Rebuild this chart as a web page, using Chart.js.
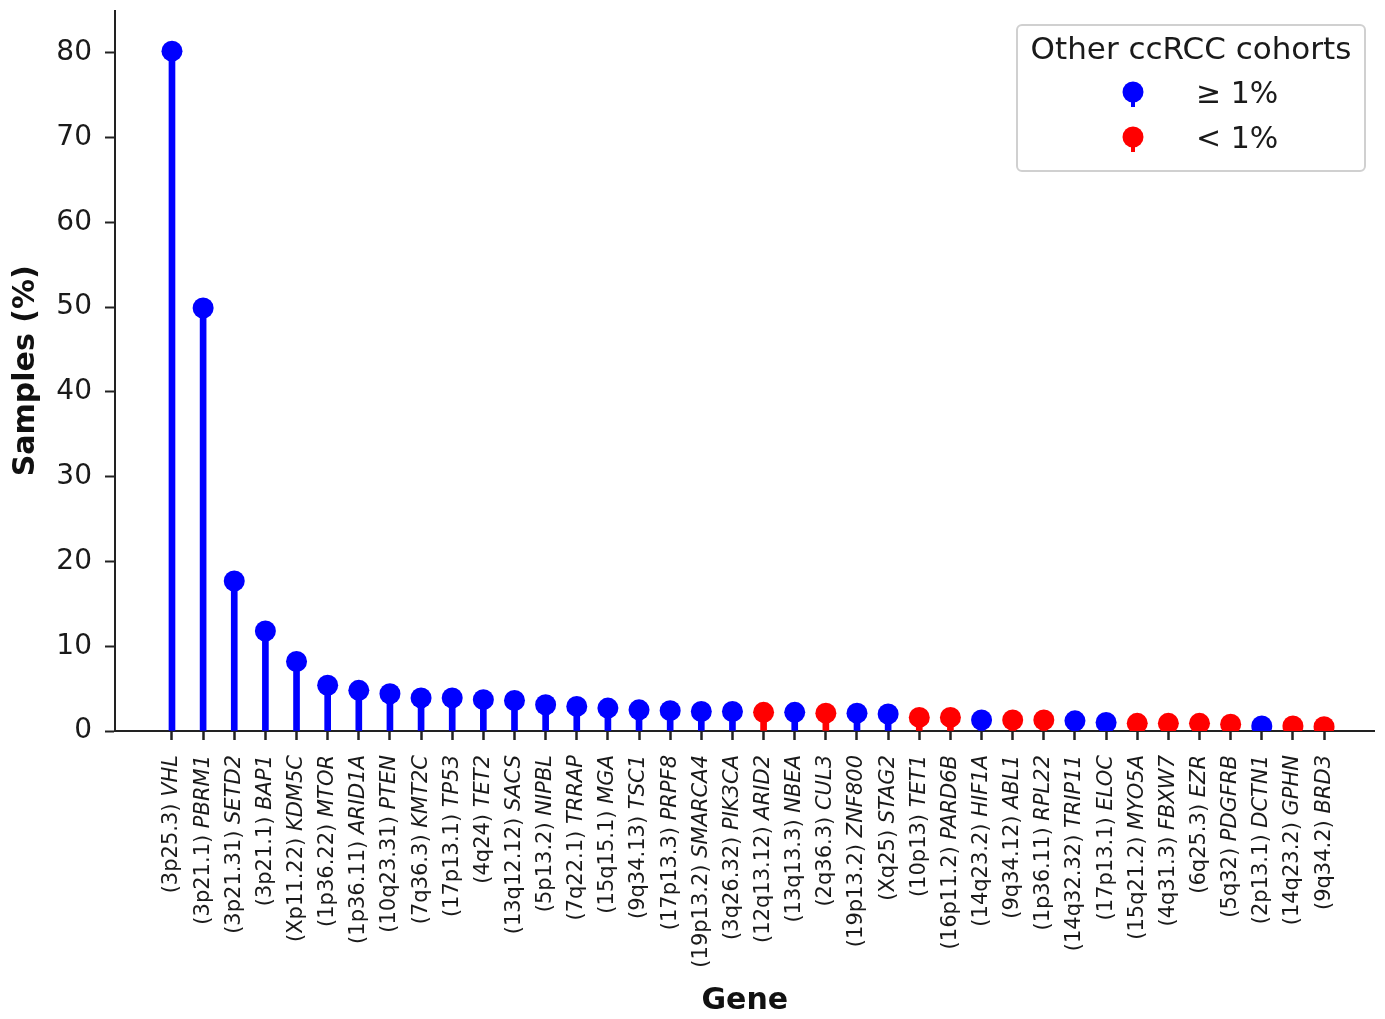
<!DOCTYPE html>
<html>
<head>
<meta charset="utf-8">
<script src="https://cdn.jsdelivr.net/npm/chart.js@4.4.1/dist/chart.umd.min.js"></script>
<style>
  html, body { margin: 0; padding: 0; background: #fff; }
  #wrap { width: 1385px; height: 1019px; }
</style>
</head>
<body>
<div id="wrap"><canvas id="chart"></canvas></div>
<script>
const bands = ["3p25.3", "3p21.1", "3p21.31", "3p21.1", "Xp11.22", "1p36.22", "1p36.11", "10q23.31",
  "7q36.3", "17p13.1", "4q24", "13q12.12", "5p13.2", "7q22.1", "15q15.1", "9q34.13", "17p13.3",
  "19p13.2", "3q26.32", "12q13.12", "13q13.3", "2q36.3", "19p13.2", "Xq25", "10p13", "16p11.2",
  "14q23.2", "9q34.12", "1p36.11", "14q32.32", "17p13.1", "15q21.2", "4q31.3", "6q25.3", "5q32",
  "2p13.1", "14q23.2", "9q34.2"];
const genes = ["VHL", "PBRM1", "SETD2", "BAP1", "KDM5C", "MTOR", "ARID1A", "PTEN", "KMT2C", "TP53",
  "TET2", "SACS", "NIPBL", "TRRAP", "MGA", "TSC1", "PRPF8", "SMARCA4", "PIK3CA", "ARID2", "NBEA",
  "CUL3", "ZNF800", "STAG2", "TET1", "PARD6B", "HIF1A", "ABL1", "RPL22", "TRIP11", "ELOC", "MYO5A",
  "FBXW7", "EZR", "PDGFRB", "DCTN1", "GPHN", "BRD3"];
const samples = [80.2, 49.9, 17.7, 11.8, 8.2, 5.4, 4.8, 4.4, 3.9, 3.9, 3.7, 3.6, 3.1, 2.9, 2.7, 2.5,
  2.4, 2.3, 2.3, 2.2, 2.2, 2.1, 2.1, 2.0, 1.6, 1.6, 1.3, 1.3, 1.3, 1.2, 1.0, 0.9, 0.9, 0.9, 0.8, 0.6,
  0.6, 0.5];
// 1 = >= 1% in other ccRCC cohorts, 0 = < 1%
const otherCohorts = [1, 1, 1, 1, 1, 1, 1, 1, 1, 1, 1, 1, 1, 1, 1, 1, 1, 1, 1, 0, 1, 0, 1, 1, 0, 0,
  1, 0, 0, 1, 1, 0, 0, 0, 0, 1, 0, 0];
const yTicks = [0, 10, 20, 30, 40, 50, 60, 70, 80];
const legendTitle = "Other ccRCC cohorts";
const legendLabels = ["\u2265 1%", "< 1%"];

const BLUE = "#0000ff";
const RED = "#ff0000";
const FONT = "'DejaVu Sans', sans-serif";
const colors = otherCohorts.map(c => c ? BLUE : RED);
const points = samples.map((v, i) => ({ x: i, y: v }));

const geneLabels = {
  id: "geneLabels",
  afterDraw(chart) {
    const ctx = chart.ctx;
    const xs = chart.scales.x;
    const top = chart.chartArea.bottom + 24;
    ctx.save();
    ctx.fillStyle = "#1a1a1a";
    ctx.textBaseline = "middle";
    ctx.textAlign = "right";
    genes.forEach((g, i) => {
      const x = xs.getPixelForValue(i);
      ctx.save();
      ctx.translate(x, top);
      ctx.rotate(-Math.PI / 2);
      ctx.font = "italic 21px " + FONT;
      const gw = ctx.measureText(g).width;
      ctx.fillText(g, 0, 0);
      ctx.font = "21px " + FONT;
      ctx.fillText("(" + bands[i] + ") ", -gw, 0);
      ctx.restore();
    });
    ctx.restore();
  }
};

const cohortLegend = {
  id: "cohortLegend",
  afterDraw(chart) {
    const ctx = chart.ctx;
    const bx = 1017, by = 25, bw = 348, bh = 146;
    ctx.save();
    ctx.fillStyle = "rgba(255,255,255,0.8)";
    ctx.strokeStyle = "#d0d0d0";
    ctx.lineWidth = 2;
    ctx.beginPath();
    ctx.roundRect(bx, by, bw, bh, 5);
    ctx.fill();
    ctx.stroke();
    ctx.fillStyle = "#1a1a1a";
    ctx.font = "31px " + FONT;
    ctx.textAlign = "center";
    ctx.textBaseline = "middle";
    ctx.fillText(legendTitle, bx + bw / 2, by + 26);
    ctx.font = "30px " + FONT;
    [BLUE, RED].forEach((c, k) => {
      const cy = by + 67 + k * 45;
      ctx.fillStyle = c;
      ctx.fillRect(1131, cy, 4, 15);
      ctx.beginPath();
      ctx.arc(1133, cy, 10.5, 0, Math.PI * 2);
      ctx.fill();
      ctx.fillStyle = "#1a1a1a";
      ctx.textAlign = "left";
      ctx.fillText(legendLabels[k], 1196, cy + 3);
    });
    ctx.restore();
  }
};

new Chart(document.getElementById("chart"), {
  type: "bar",
  data: {
    datasets: [
      {
        type: "scatter",
        data: points,
        pointRadius: 10.5,
        pointHoverRadius: 10.5,
        pointBackgroundColor: colors,
        pointBorderWidth: 0,
        order: 0
      },
      {
        type: "bar",
        data: points,
        backgroundColor: colors,
        barThickness: 6,
        order: 1
      }
    ]
  },
  options: {
    responsive: true,
    maintainAspectRatio: false,
    animation: false,
    events: [],
    layout: { padding: { top: 10, right: 0, left: 0, bottom: 0 } },
    plugins: {
      legend: { display: false },
      tooltip: { enabled: false }
    },
    scales: {
      x: {
        type: "linear",
        offset: false,
        min: -1.83,
        max: 38.62,
        afterBuildTicks: s => { s.ticks = genes.map((g, i) => ({ value: i })); },
        afterFit: s => { s.height = 288; s.paddingLeft = 0; s.paddingRight = 0; },
        ticks: { display: false },
        grid: { offset: false, drawOnChartArea: false, drawTicks: true, tickLength: 9, tickWidth: 2.5, color: "#222" },
        border: { color: "#222", width: 2 },
        title: {
          display: true,
          text: "Gene",
          font: { family: FONT, size: 30, weight: "bold" },
          color: "#111",
          padding: { top: 0, bottom: 0 }
        }
      },
      y: {
        min: 0,
        max: 85,
        afterBuildTicks: s => { s.ticks = yTicks.map(v => ({ value: v })); },
        afterFit: s => { s.width = 115; s.paddingTop = 0; s.paddingBottom = 0; },
        ticks: { font: { family: FONT, size: 28 }, color: "#1a1a1a", padding: 13 },
        grid: { drawOnChartArea: false, drawTicks: true, tickLength: 10, tickWidth: 2, color: "#222" },
        border: { color: "#222", width: 2 },
        title: {
          display: true,
          text: "Samples (%)",
          font: { family: FONT, size: 30, weight: "bold" },
          color: "#111",
          padding: { top: 8, bottom: 0 }
        }
      }
    }
  },
  plugins: [geneLabels, cohortLegend]
});
</script>
</body>
</html>
